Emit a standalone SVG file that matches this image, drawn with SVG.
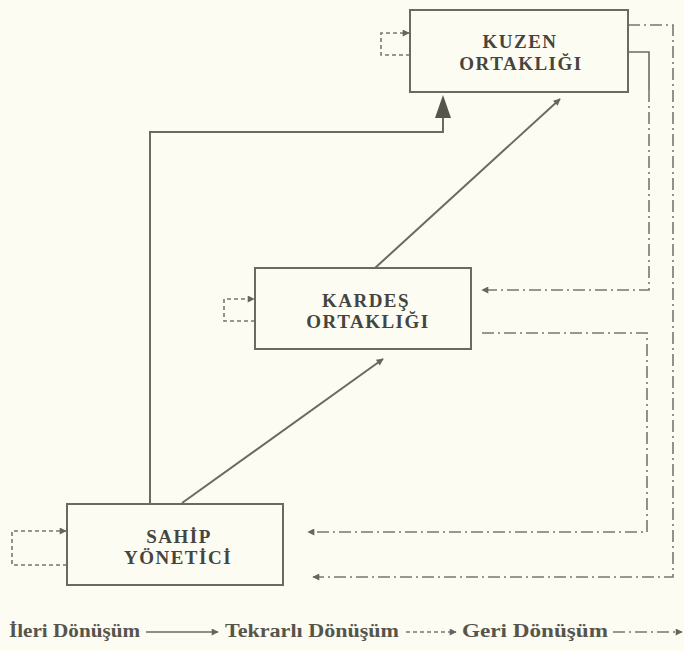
<svg xmlns="http://www.w3.org/2000/svg" width="684" height="651" viewBox="0 0 684 651">
  <style>
    .box { fill: #fcfcf3; stroke: #6a6a62; stroke-width: 2; }
    .lbl { font-family: "Liberation Serif", "Times New Roman", serif; font-weight: bold; font-size: 19px; letter-spacing: 1.5px; fill: #45453f; text-anchor: middle; }
    .fwd { fill: none; stroke: #6a6a62; stroke-width: 2; }
    .rep { fill: none; stroke: #77776e; stroke-width: 1.6; stroke-dasharray: 4 3; }
    .back { fill: none; stroke: #77776e; stroke-width: 1.6; stroke-dasharray: 12 4 2 4; }
    .leg { font-family: "Liberation Serif", "Times New Roman", serif; font-weight: bold; font-size: 18px; fill: #55554c; }
  </style>
  <defs>
    <marker id="ah" viewBox="0 0 10 10" refX="9" refY="5" markerWidth="9" markerHeight="7" markerUnits="userSpaceOnUse" orient="auto">
      <path d="M0,0 L10,5 L0,10 Z" fill="#66665e"/>
    </marker>
  </defs>
  <rect width="684" height="651" fill="#fcfcf3"/>

  <g id="connectors">
    <!-- forward (Ileri) -->
    <path class="fwd" d="M150,503 L150,132 L443,132 L443,116"/>
    <polygon points="443,95 435,118 451,118" fill="#55554d"/>
    <line class="fwd" x1="182" y1="503" x2="383" y2="359" marker-end="url(#ah)"/>
    <line class="fwd" x1="375" y1="268" x2="560" y2="99" marker-end="url(#ah)"/>
    <!-- repetitive (Tekrarli) self-loops -->
    <path class="rep" d="M410,55 L381,55 L381,33 L409,33" marker-end="url(#ah)"/>
    <path class="rep" d="M255,321 L224,321 L224,299 L254,299" marker-end="url(#ah)"/>
    <path class="rep" d="M67,565 L12,565 L12,531 L66,531" marker-end="url(#ah)"/>
    <!-- backward (Geri) -->
    <path class="back" d="M628,25 L673,25 L673,577 L313,577" marker-end="url(#ah)"/>
    <path class="fwd" style="stroke-width:1.6" d="M628,52 L649,52 L649,90"/>
    <path class="back" d="M649,90 L649,290 L482,290" marker-end="url(#ah)"/>
    <path class="back" d="M482,333 L647,333 L647,532 L308,532" marker-end="url(#ah)"/>
  </g>

  <g id="kuzen">
    <rect class="box" x="410" y="10" width="218" height="82"/>
    <text class="lbl" x="520" y="48">KUZEN</text>
    <text class="lbl" x="521" y="70">ORTAKLIĞI</text>
  </g>
  <g id="kardes">
    <rect class="box" x="255" y="268" width="216" height="81"/>
    <text class="lbl" x="366" y="307">KARDEŞ</text>
    <text class="lbl" x="368" y="328">ORTAKLIĞI</text>
  </g>
  <g id="sahip">
    <rect class="box" x="67" y="504" width="216" height="81"/>
    <text class="lbl" x="179" y="543">SAHİP</text>
    <text class="lbl" x="178" y="564">YÖNETİCİ</text>
  </g>

  <g id="legend">
    <text class="leg" x="9" y="637" textLength="131" lengthAdjust="spacingAndGlyphs">İleri Dönüşüm</text>
    <line class="fwd" x1="146" y1="632" x2="218" y2="632" marker-end="url(#ah)" style="stroke-width:1.6"/>
    <text class="leg" x="225" y="637" textLength="174" lengthAdjust="spacingAndGlyphs">Tekrarlı Dönüşüm</text>
    <line class="rep" x1="406" y1="632" x2="456" y2="632" marker-end="url(#ah)"/>
    <text class="leg" x="462" y="637" textLength="146" lengthAdjust="spacingAndGlyphs">Geri Dönüşüm</text>
    <line class="back" x1="613" y1="632" x2="682" y2="632" marker-end="url(#ah)"/>
  </g>
</svg>
